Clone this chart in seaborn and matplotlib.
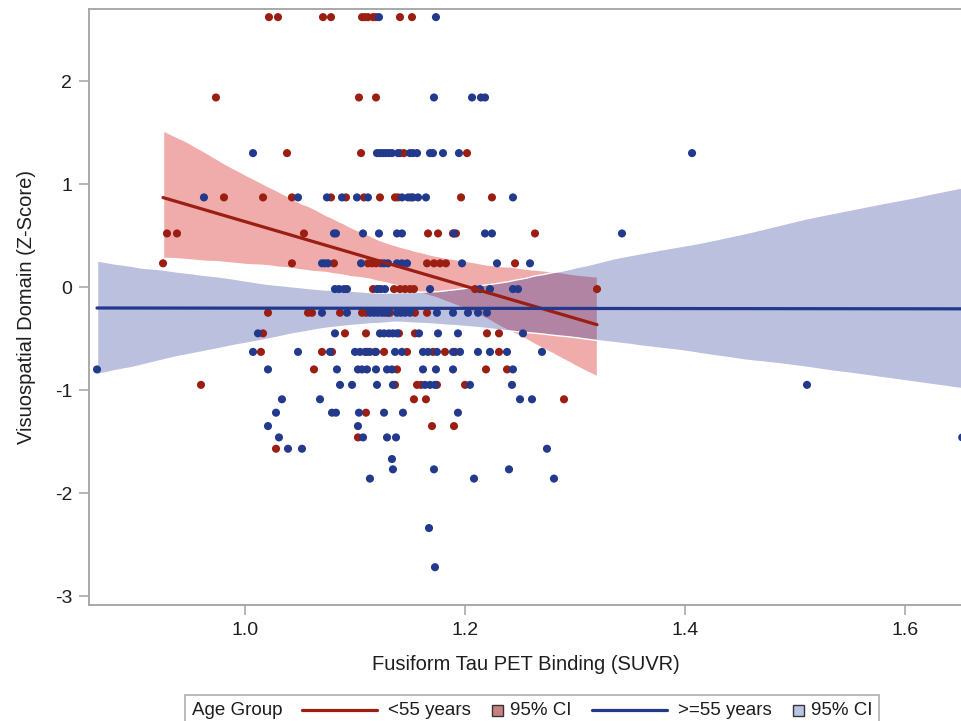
import numpy as np
import pandas as pd
import matplotlib
matplotlib.use("Agg")
import matplotlib.pyplot as plt
import seaborn as sns
from matplotlib.offsetbox import TextArea, DrawingArea, HPacker, AnchoredOffsetbox
from matplotlib.lines import Line2D
from matplotlib.patches import Rectangle

# ---------------- data ----------------
young_x = [
    1.0218, 1.0300, 1.0709, 1.0782, 1.1064, 1.1091, 1.1118, 1.1164, 1.1191, 1.1409, 1.1518,
    0.9736, 1.1036, 1.1191,
    1.0382, 1.1055, 1.1409, 1.1445, 1.2018,
    0.9809, 1.0164, 1.0427, 1.0782, 1.0918, 1.1082, 1.1227, 1.1364, 1.1391, 1.1509, 1.1964, 1.2245,
    0.9291, 0.9382, 1.0536, 1.1664, 1.1755, 1.1891, 1.1918, 1.2636,
    0.9255, 1.0427, 1.0809, 1.1118, 1.1155, 1.1191, 1.1236, 1.1655, 1.1718, 1.1773, 1.1827, 1.2455,
    1.1164, 1.1209, 1.1355, 1.1409, 1.1455, 1.1500, 1.1536, 1.2091, 1.3200,
    1.0209, 1.0573, 1.0609, 1.0864, 1.1064, 1.1100, 1.1273, 1.1318, 1.1545, 1.1655,
    1.0164, 1.0909, 1.1100, 1.1400, 1.1545, 1.2200, 1.2309,
    1.0145, 1.0700, 1.0791, 1.1109, 1.1182, 1.1264, 1.1473, 1.1709, 1.1818, 1.1909, 1.2309,
    1.0627, 1.1382, 1.2191, 1.2382,
    0.9600, 1.1364, 1.1564, 1.1600, 1.1745, 1.2000,
    1.1536, 1.1645, 1.2900,
    1.1100,
    1.1700, 1.1900,
    1.1027,
    1.0282,
]
young_y = (
    [2.62] * 11 + [1.84] * 3 + [1.30] * 5 + [0.87] * 12 + [0.52] * 8 + [0.23] * 12
    + [-0.02] * 9 + [-0.25] * 10 + [-0.45] * 7 + [-0.63] * 11 + [-0.80] * 4
    + [-0.95] * 6 + [-1.09] * 3 + [-1.22] * 1 + [-1.35] * 2 + [-1.46] * 1 + [-1.57] * 1
)

old_x = [
    1.1218, 1.1736,
    1.1718, 1.2064, 1.2145, 1.2182,
    1.0073, 1.1200, 1.1227, 1.1255, 1.1282, 1.1309, 1.1336, 1.1391, 1.1500, 1.1527, 1.1564,
    1.1682, 1.1709, 1.1800, 1.1945, 1.4064,
    0.9627, 1.0482, 1.0745, 1.0882, 1.1018, 1.1118, 1.1427, 1.1482, 1.1527, 1.1573, 1.1645, 1.2436,
    1.0809, 1.0827, 1.1073, 1.1218, 1.1382, 1.1427, 1.1900, 1.2182, 1.2245, 1.3427,
    1.0700, 1.0727, 1.0755, 1.1055, 1.1264, 1.1300, 1.1382, 1.1427, 1.1473, 1.1973, 1.2291, 1.2591,
    1.0818, 1.0855, 1.0900, 1.0927, 1.1200, 1.1236, 1.1273, 1.1682, 1.2136, 1.2227, 1.2436, 1.2482,
    1.0700, 1.0927, 1.1136, 1.1173, 1.1209, 1.1245, 1.1300, 1.1382, 1.1418, 1.1455, 1.1500,
    1.1745, 1.1891, 1.2027, 1.2118, 1.2200,
    1.0118, 1.0818, 1.1227, 1.1264, 1.1309, 1.1345, 1.1382, 1.1582, 1.1755, 1.1936, 1.2527,
    1.0073, 1.0482, 1.0773, 1.1000, 1.1045, 1.1091, 1.1136, 1.1191, 1.1364, 1.1427, 1.1618,
    1.1664, 1.1745, 1.1891, 1.1955, 1.2118, 1.2227, 1.2382, 1.2700,
    0.8655, 1.0209, 1.0836, 1.1027, 1.1064, 1.1109, 1.1191, 1.1291, 1.1336, 1.1618, 1.1736,
    1.1891, 1.2436,
    1.0864, 1.0973, 1.1200, 1.1345, 1.1636, 1.1682, 1.1727, 1.2045, 1.2427, 1.5109,
    1.0336, 1.0682, 1.2500, 1.2609,
    1.0282, 1.0791, 1.0827, 1.1036, 1.1264, 1.1436, 1.1936,
    1.0209, 1.1027,
    1.0309, 1.1073, 1.1291, 1.1373, 1.6520,
    1.0391, 1.0518, 1.2745,
    1.1336,
    1.1345, 1.1718, 1.2400,
    1.1136, 1.2082, 1.2809,
    1.1673,
    1.1727,
]
old_y = (
    [2.62] * 2 + [1.84] * 4 + [1.30] * 16 + [0.87] * 12 + [0.52] * 10 + [0.23] * 12
    + [-0.02] * 12 + [-0.25] * 16 + [-0.45] * 11 + [-0.63] * 19 + [-0.80] * 13
    + [-0.95] * 10 + [-1.09] * 4 + [-1.22] * 7 + [-1.35] * 2 + [-1.46] * 5 + [-1.57] * 3
    + [-1.67] * 1 + [-1.77] * 3 + [-1.86] * 3 + [-2.34] * 1 + [-2.72] * 1
)

groups = ["<55 years", ">=55 years"]
x_ticks = [1.0, 1.2, 1.4, 1.6]
x_tick_labels = ["1.0", "1.2", "1.4", "1.6"]
y_ticks = [-3, -2, -1, 0, 1, 2]
x_label = "Fusiform Tau PET Binding (SUVR)"
y_label = "Visuospatial Domain (Z-Score)"
legend_title = "Age Group"
ci_label = "95% CI"

df = pd.DataFrame({
    "suvr": young_x + old_x,
    "z": young_y + old_y,
    "group": [groups[0]] * len(young_x) + [groups[1]] * len(old_x),
})

# ---------------- style ----------------
RED = "#9B1E12"
BLUE = "#22398C"
RED_BAND = "#F0ABAB"
BLUE_BAND = (0.05, 0.12, 0.55, 0.28)
SPINE = "#A3A3A3"
TEXT = "#1E1E1E"

sns.set_theme(style="white")
plt.rcParams["font.family"] = ["Liberation Sans", "DejaVu Sans"]

fig = plt.figure(figsize=(9.62, 7.21), dpi=100)
ax = fig.add_axes([89 / 962, 1 - 605 / 721, 1 - 89 / 962, (605 - 9) / 721])

# regression lines + CI bands
sns.regplot(data=df[df.group == groups[0]], x="suvr", y="z", scatter=False, ci=95,
            truncate=True, seed=3, color=RED, line_kws=dict(lw=2.3, zorder=5), ax=ax)
band_r = ax.collections[-1]
band_r.set_alpha(None)
band_r.set_facecolor(RED_BAND)
band_r.set_zorder(1)

sns.regplot(data=df[df.group == groups[1]], x="suvr", y="z", scatter=False, ci=95,
            truncate=True, seed=3, color=BLUE, line_kws=dict(lw=2.3, zorder=5), ax=ax)
band_b = ax.collections[-1]
band_b.set_alpha(None)
band_b.set_facecolor(BLUE_BAND)
band_b.set_zorder(2)

sns.scatterplot(data=df, x="suvr", y="z", hue="group", palette={groups[0]: RED, groups[1]: BLUE},
                s=34, edgecolor="none", linewidth=0, legend=False, zorder=3, ax=ax)

ax.set_xlim(0.8582, 1.6518)
ax.set_ylim(-3.087, 2.699)
ax.set_xticks(x_ticks)
ax.set_xticklabels(x_tick_labels)
ax.set_yticks(y_ticks)
ax.set_yticklabels([str(t) for t in y_ticks])
ax.tick_params(axis="both", which="major", direction="out", length=7, width=1.1,
               color=SPINE, labelsize=14, labelcolor=TEXT, pad=5, left=True, bottom=True)
for side in ["left", "bottom", "top"]:
    ax.spines[side].set_visible(True)
    ax.spines[side].set_color(SPINE)
    ax.spines[side].set_linewidth(1.3)
ax.spines["right"].set_visible(False)
ax.set_xlabel(x_label, fontsize=14.5, color=TEXT, labelpad=12)
ax.set_ylabel(y_label, fontsize=14.5, color=TEXT, labelpad=14)
ax.grid(False)

# ---------------- legend ----------------
pt = 72 / 100.0
tp = dict(fontsize=13.5, color=TEXT)


def line_box(color):
    da = DrawingArea(75 * pt, 12 * pt, 0, 0)
    da.add_artist(Line2D([0, 75 * pt], [6 * pt, 6 * pt], color=color, lw=2.3))
    return da


def square_box(face):
    da = DrawingArea(13 * pt, 13 * pt, 0, 0)
    da.add_artist(Rectangle((1 * pt, 1 * pt), 11 * pt, 11 * pt, facecolor=face,
                            edgecolor="#333333", lw=1.0))
    return da


entries = [
    TextArea(legend_title, textprops=tp),
    HPacker(children=[line_box(RED), TextArea(groups[0], textprops=tp)], sep=11 * pt, align="center"),
    HPacker(children=[square_box("#C98080"), TextArea(ci_label, textprops=tp)], sep=6 * pt, align="center"),
    HPacker(children=[line_box(BLUE), TextArea(groups[1], textprops=tp)], sep=11 * pt, align="center"),
    HPacker(children=[square_box("#B8C4E0"), TextArea(ci_label, textprops=tp)], sep=6 * pt, align="center"),
]
box = HPacker(children=entries, sep=20 * pt, align="center")
anch = AnchoredOffsetbox(loc="upper center", child=box, pad=0.35, borderpad=0, frameon=True,
                         prop=dict(size=13.5), bbox_to_anchor=(532 / 962, 1 - 695 / 721),
                         bbox_transform=fig.transFigure)
anch.patch.set_edgecolor("#A8A8A8")
anch.patch.set_linewidth(1.1)
fig.add_artist(anch)

fig.savefig("out.png", dpi=100, facecolor="white")
